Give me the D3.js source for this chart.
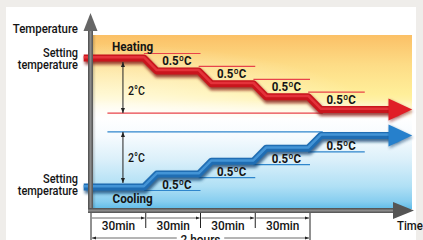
<!DOCTYPE html>
<html>
<head>
<meta charset="utf-8">
<script src="https://d3js.org/d3.v7.min.js"></script>
<style>
  html, body { margin: 0; padding: 0; background: #efedea; }
  svg { display: block; }
  text { font-family: Roboto, "Liberation Sans", Arial, sans-serif; fill: #141414; }
</style>
</head>
<body>
<svg id="chart" width="423" height="240"></svg>
<script>
// time marks along the bottom (minutes)
var timeTicks = [0, 30, 60, 90, 120];
var stepTimes = [30, 60, 90, 120];
var intervalLabels = ["30min", "30min", "30min", "30min"];
var totalLabel = "2 hours";

// temperature levels, one per half hour
var heatLevels = [22, 21.5, 21, 20.5, 20];
var coolLevels = [17, 17.5, 18, 18.5, 19];
var stepLabels = ["0.5ºC", "0.5ºC", "0.5ºC", "0.5ºC"];
var rangeLabel = "2°C";

var lineStart = -4, lineEnd = 176, rampLen = 7;

var svg = d3.select("#chart");
var x = d3.scaleLinear().domain([0, 120]).range([91, 310]);
var y = d3.scaleLinear().domain([17, 22]).range([187, 58]);

var defs = svg.append("defs");

// white panel
svg.append("rect").attr("x", 6).attr("y", 7).attr("width", 410).attr("height", 233).attr("fill", "#ffffff");

// warm band
var warm = defs.append("linearGradient").attr("id", "warm").attr("x1", 0).attr("y1", 0).attr("x2", 0).attr("y2", 1);
[["0%", "#fbc066"], ["35%", "#fddc86"], ["70%", "#ffef9a"], ["100%", "#fff8d8"]].forEach(function(s) {
	warm.append("stop").attr("offset", s[0]).attr("stop-color", s[1]);
});
var warmFade = defs.append("radialGradient").attr("id", "warmFade").attr("cx", 0).attr("cy", 1).attr("r", 0.9);
warmFade.append("stop").attr("offset", "0%").attr("stop-color", "#fff").attr("stop-opacity", 0.85);
warmFade.append("stop").attr("offset", "100%").attr("stop-color", "#fff").attr("stop-opacity", 0);
var bottomFade = defs.append("linearGradient").attr("id", "bottomFade").attr("x1", 0).attr("y1", 0).attr("x2", 0).attr("y2", 1);
bottomFade.append("stop").attr("offset", "0%").attr("stop-color", "#fff").attr("stop-opacity", 0);
bottomFade.append("stop").attr("offset", "100%").attr("stop-color", "#fff").attr("stop-opacity", 1);

svg.append("rect").attr("x", 92).attr("y", 35).attr("width", 320).attr("height", 85).attr("fill", "url(#warm)");
svg.append("rect").attr("x", 92).attr("y", 35).attr("width", 320).attr("height", 85).attr("fill", "url(#warmFade)");
svg.append("rect").attr("x", 92).attr("y", 100).attr("width", 320).attr("height", 21).attr("fill", "url(#bottomFade)");

// cool band
var cool = defs.append("linearGradient").attr("id", "cool").attr("x1", 0).attr("y1", 0).attr("x2", 0).attr("y2", 1);
[["0%", "#ffffff"], ["20%", "#f6fbfe"], ["45%", "#dcf0fa"], ["75%", "#b0e0f5"], ["92%", "#86cdef"], ["100%", "#5fbce8"]].forEach(function(s) {
	cool.append("stop").attr("offset", s[0]).attr("stop-color", s[1]);
});
svg.append("rect").attr("x", 92).attr("y", 118).attr("width", 320).attr("height", 91).attr("fill", "url(#cool)");

// shade next to the vertical axis
var edge = defs.append("linearGradient").attr("id", "edge").attr("x1", 0).attr("x2", 1).attr("y1", 0).attr("y2", 0);
edge.append("stop").attr("offset", "0%").attr("stop-color", "#000").attr("stop-opacity", 0.25);
edge.append("stop").attr("offset", "100%").attr("stop-color", "#000").attr("stop-opacity", 0);
svg.append("rect").attr("x", 92).attr("y", 35).attr("width", 4).attr("height", 174).attr("fill", "url(#edge)");

// soft shadow for the thick lines
var blur = defs.append("filter").attr("id", "soft").attr("x", "-10%").attr("y", "-50%").attr("width", "120%").attr("height", "200%");
blur.append("feGaussianBlur").attr("stdDeviation", 1.4);

// small arrow marker
defs.append("marker").attr("id", "tip").attr("viewBox", "0 0 6 6").attr("refX", 6).attr("refY", 3)
	.attr("markerWidth", 5).attr("markerHeight", 5).attr("orient", "auto-start-reverse")
	.append("path").attr("d", "M0,0.6 L6,3 L0,5.4 Z").attr("fill", "#222");

function label(px, py, str, size, weight, anchor, sx) {
	svg.append("text")
		.attr("transform", "translate(" + px + "," + py + ") scale(" + sx + ",1)")
		.attr("text-anchor", anchor)
		.style("font-size", size + "px")
		.style("font-weight", weight)
		.text(str);
}

// builds the stepped path for one series
function stepPoints(levels) {
	var pts = [[x(lineStart), y(levels[0])]];
	stepTimes.forEach(function(t, i) {
		pts.push([x(t - 1), y(levels[i])]);
		pts.push([x(t + rampLen - 1), y(levels[i + 1])]);
	});
	pts.push([x(lineEnd - 8), y(levels[levels.length - 1])]);
	return pts;
}

var line = d3.line();

function drawSeries(levels, dark, mid, light, headColor) {
	var pts = stepPoints(levels);
	var g = svg.append("g");
	g.append("path").attr("d", line(pts)).attr("transform", "translate(1,2.5)")
		.attr("fill", "none").attr("stroke", dark).attr("stroke-width", 8).attr("opacity", 0.75)
		.attr("filter", "url(#soft)");
	g.append("path").attr("d", line(pts)).attr("fill", "none").attr("stroke", mid)
		.attr("stroke-width", 7).attr("stroke-linejoin", "round");
	g.append("path").attr("d", line(pts)).attr("transform", "translate(0,-0.8)").attr("fill", "none")
		.attr("stroke", light).attr("stroke-width", 2.5).attr("stroke-linejoin", "round");
	var ly = y(levels[levels.length - 1]);
	var hx = x(lineEnd - 13), tx = x(lineEnd);
	g.append("path").attr("d", "M" + (hx + 1) + "," + (ly - 10) + "L" + (tx + 1) + "," + (ly + 2) + "L" + (hx + 1) + "," + (ly + 13) + "Z")
		.attr("fill", dark).attr("opacity", 0.5).attr("filter", "url(#soft)");
	g.append("path").attr("d", "M" + hx + "," + (ly - 11) + "L" + tx + "," + ly + "L" + hx + "," + (ly + 11) + "Z")
		.attr("fill", headColor);
}

// thin reference lines
var red = "#e8434a", blue = "#2f86cc";
stepTimes.forEach(function(t, i) {
	svg.append("line").attr("x1", x(t - 1)).attr("x2", x(t + 30)).attr("y1", y(heatLevels[i]) - 4.5).attr("y2", y(heatLevels[i]) - 4.5)
		.attr("stroke", red).attr("stroke-width", 1.2);
	svg.append("line").attr("x1", x(t - 1)).attr("x2", x(t + 30)).attr("y1", y(coolLevels[i]) + 3.5).attr("y2", y(coolLevels[i]) + 3.5)
		.attr("stroke", blue).attr("stroke-width", 1.2);
});
var lastHeat = y(heatLevels[heatLevels.length - 1]) + 3.5;
var lastCool = y(coolLevels[coolLevels.length - 1]) - 3.5;
svg.append("line").attr("x1", x(9)).attr("x2", x(127)).attr("y1", lastHeat).attr("y2", lastHeat).attr("stroke", red).attr("stroke-width", 1.2);
svg.append("line").attr("x1", x(9)).attr("x2", x(127)).attr("y1", lastCool).attr("y2", lastCool).attr("stroke", blue).attr("stroke-width", 1.2);

drawSeries(heatLevels, "#7e1010", "#c9151d", "#e4323a", "#e01e26");
drawSeries(coolLevels, "#0d3f70", "#1f6db3", "#4394d6", "#2680cc");

// 2 degree brackets
var bx = x(17.5);
svg.append("line").attr("x1", bx).attr("x2", bx).attr("y1", y(heatLevels[0]) + 4).attr("y2", lastHeat)
	.attr("stroke", "#222").attr("stroke-width", 1).attr("marker-start", "url(#tip)").attr("marker-end", "url(#tip)");
svg.append("line").attr("x1", bx).attr("x2", bx).attr("y1", lastCool).attr("y2", y(coolLevels[0]) - 4)
	.attr("stroke", "#222").attr("stroke-width", 1).attr("marker-start", "url(#tip)").attr("marker-end", "url(#tip)");
label(bx + 5, 95, rangeLabel, 12, 500, "start", 0.88);
label(bx + 5, 161.5, rangeLabel, 12, 500, "start", 0.88);

// step labels
stepTimes.forEach(function(t, i) {
	label(x(t + 17), y(heatLevels[i + 1]) - 6, stepLabels[i], 12.5, "bold", "middle", 0.92);
	label(x(t + 17), y(coolLevels[i]) + 1.5, stepLabels[i], 12.5, "bold", "middle", 0.92);
});

label(112, 50.5, "Heating", 13, "bold", "start", 0.9);
label(112.5, 203.3, "Cooling", 13, "bold", "start", 0.9);

// axes
var axisGrad = defs.append("linearGradient").attr("id", "axisV").attr("x1", 0).attr("x2", 1).attr("y1", 0).attr("y2", 0);
axisGrad.append("stop").attr("offset", "0%").attr("stop-color", "#4a4a4a");
axisGrad.append("stop").attr("offset", "50%").attr("stop-color", "#8a8a8a");
axisGrad.append("stop").attr("offset", "100%").attr("stop-color", "#505050");
var axisGradH = defs.append("linearGradient").attr("id", "axisH").attr("x1", 0).attr("x2", 0).attr("y1", 0).attr("y2", 1);
axisGradH.append("stop").attr("offset", "0%").attr("stop-color", "#4a4a4a");
axisGradH.append("stop").attr("offset", "50%").attr("stop-color", "#8a8a8a");
axisGradH.append("stop").attr("offset", "100%").attr("stop-color", "#505050");

svg.append("rect").attr("x", 88).attr("y", 28).attr("width", 5).attr("height", 185).attr("fill", "url(#axisV)");
svg.append("path").attr("d", "M90.5,13L97.5,31L83.5,31Z").attr("fill", "#666");
svg.append("rect").attr("x", 88).attr("y", 208).attr("width", 307).attr("height", 5).attr("fill", "url(#axisH)");
svg.append("path").attr("d", "M393,202L414,210.5L393,219Z").attr("fill", "#555");

// left labels
label(78, 33, "Temperature", 13, 500, "end", 0.88);
label(78, 56.5, "Setting", 12.5, 500, "end", 0.88);
label(78, 68.5, "temperature", 12.5, 500, "end", 0.88);
label(78, 183.3, "Setting", 12.5, 500, "end", 0.88);
label(78, 195.3, "temperature", 12.5, 500, "end", 0.88);
label(397, 230, "Time", 12, 500, "start", 0.95);

// time brackets
timeTicks.forEach(function(t, i) {
	var long = (i == 0 || i == timeTicks.length - 1);
	svg.append("line").attr("x1", x(t)).attr("x2", x(t)).attr("y1", 213).attr("y2", long ? 240 : 228)
		.attr("stroke", "#222").attr("stroke-width", 1);
	if (i < timeTicks.length - 1) {
		svg.append("line").attr("x1", x(t) + 1).attr("x2", x(timeTicks[i + 1]) - 1).attr("y1", 218).attr("y2", 218)
			.attr("stroke", "#444").attr("stroke-width", 0.8).attr("marker-end", "url(#tip)");
		label(x(t + 15), 230, intervalLabels[i], 12.5, 500, "middle", 0.95);
	}
});
svg.append("line").attr("x1", x(0) + 1).attr("x2", x(47)).attr("y1", 238).attr("y2", 238).attr("stroke", "#444").attr("stroke-width", 0.8)
	.attr("marker-start", "url(#tip)");
svg.append("line").attr("x1", x(73)).attr("x2", x(120) - 1).attr("y1", 238).attr("y2", 238).attr("stroke", "#444").attr("stroke-width", 0.8)
	.attr("marker-end", "url(#tip)");
label(x(60), 244, totalLabel, 12.5, 500, "middle", 0.95);
</script>
</body>
</html>
